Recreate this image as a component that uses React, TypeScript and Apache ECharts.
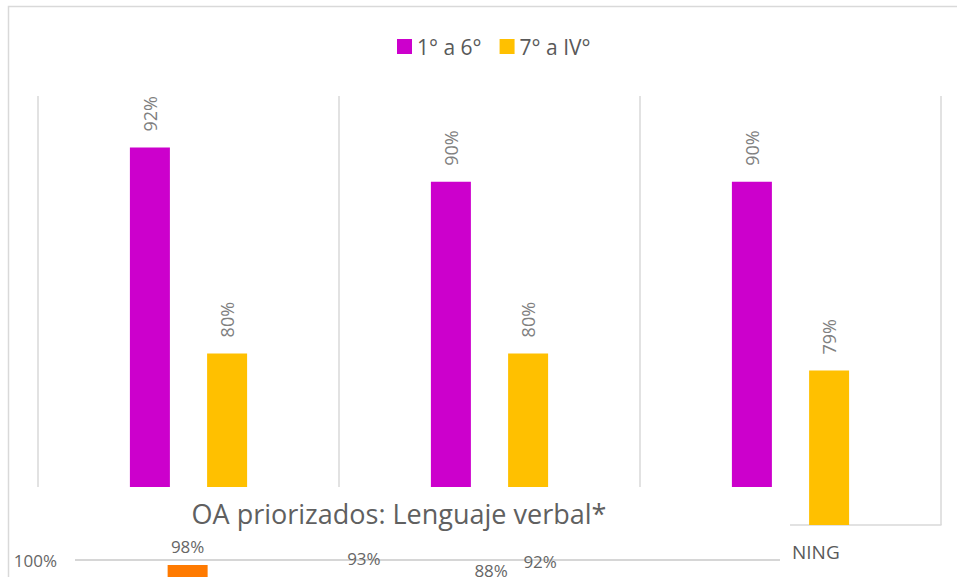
import React, { useEffect, useRef } from "react";
import * as echarts from "echarts";

// ---- Main chart data ----
const mainCategories = ["Grupo 1", "Grupo 2", "Grupo 3"];
const seriesNames = ["1° a 6°", "7° a IV°"];
const basica = [0.92, 0.9, 0.9];
const media = [0.8, 0.8, 0.79];

// ---- Partially visible overlapping chart ----
const lowerTitle = "OA priorizados: Lenguaje verbal*";
const lowerCategories = ["A", "B", "C", "D"];
const lowerSeriesNames = ["Serie 1", "Serie 2"];
const lowerLeft = [null, null, 0.88, null];
const lowerRight = [0.98, 0.93, 0.92, null];
const cutLabel = "NING";

const FONT = "Open Sans";
const pct = (v: number) => Math.round(v * 100) + "%";

export default function App() {
  const ref = useRef<HTMLDivElement>(null);
  useEffect(() => {
    if (!ref.current) return;
    const chart = echarts.init(ref.current, undefined, { renderer: "svg" });
    chart.setOption({
      animation: false,
      backgroundColor: "#ffffff",
      textStyle: { fontFamily: FONT },
      legend: {
        data: seriesNames,
        left: 397,
        top: 36,
        padding: 0,
        icon: "rect",
        itemWidth: 15,
        itemHeight: 15,
        itemGap: 18,
        textStyle: { fontSize: 21, color: "#595959", fontFamily: FONT },
      },
      grid: [
        { left: 38, right: 16, top: 96, bottom: 52, outerBoundsMode: "none" },
        { left: 75, right: 177, top: 560, height: 245, outerBoundsMode: "none" },
      ],
      xAxis: [
        {
          type: "category",
          gridIndex: 0,
          data: mainCategories,
          axisLine: { lineStyle: { color: "#d9d9d9", width: 1.5 } },
          axisTick: { show: false },
          axisLabel: { show: false },
          splitLine: { show: true, lineStyle: { color: "#d9d9d9", width: 1.5 } },
        },
        {
          type: "category",
          gridIndex: 1,
          data: lowerCategories,
          axisLine: { show: false },
          axisTick: { show: false },
          axisLabel: { show: false },
          z: 60,
        },
      ],
      yAxis: [
        { type: "value", gridIndex: 0, min: 0.7, max: 0.95, show: false },
        {
          type: "value",
          gridIndex: 1,
          min: 0,
          max: 1,
          interval: 0.2,
          z: 60,
          axisLine: { show: false },
          axisTick: { show: false },
          axisLabel: {
            formatter: (v: number) => pct(v),
            fontSize: 17,
            color: "#666666",
            margin: 18,
            fontFamily: FONT,
          },
          splitLine: { show: true, lineStyle: { color: "#d6d6d6", width: 2 } },
        },
      ],
      series: [
        {
          name: seriesNames[0],
          type: "bar",
          data: basica,
          barWidth: 40,
          barGap: "93%",
          itemStyle: { color: "#CC00CC" },
          label: {
            show: true,
            position: "top",
            rotate: 90,
            align: "left",
            verticalAlign: "middle",
            distance: 16,
            fontSize: 18,
            color: "#808080",
            formatter: (p: any) => pct(p.value),
          },
        },
        {
          name: seriesNames[1],
          type: "bar",
          data: media,
          barWidth: 40,
          barGap: "93%",
          itemStyle: { color: "#FFC000" },
          label: {
            show: true,
            position: "top",
            rotate: 90,
            align: "left",
            verticalAlign: "middle",
            distance: 16,
            fontSize: 18,
            color: "#808080",
            formatter: (p: any) => pct(p.value),
          },
        },
        {
          name: lowerSeriesNames[0],
          type: "bar",
          xAxisIndex: 1,
          yAxisIndex: 1,
          data: lowerLeft,
          barWidth: 40,
          barGap: "22.5%",
          z: 60,
          itemStyle: { color: "#A5A5A5" },
          label: {
            show: true,
            position: "top",
            distance: 10,
            fontSize: 17,
            color: "#666666",
            formatter: (p: any) => (p.value == null ? "" : pct(p.value)),
          },
        },
        {
          name: lowerSeriesNames[1],
          type: "bar",
          xAxisIndex: 1,
          yAxisIndex: 1,
          data: lowerRight,
          barWidth: 40,
          barGap: "22.5%",
          z: 60,
          itemStyle: { color: "#FF7A00" },
          label: {
            show: true,
            position: "top",
            distance: 10,
            fontSize: 17,
            color: "#666666",
            formatter: (p: any) => (p.value == null ? "" : pct(p.value)),
          },
        },
      ],
      graphic: [
        {
          type: "rect",
          silent: true,
          z: 50,
          shape: { x: 9.5, y: 487, width: 780.5, height: 100 },
          style: { fill: "#ffffff" },
        },
        {
          type: "rect",
          silent: true,
          z: 100,
          shape: { x: 8.5, y: 6.5, width: 1000, height: 1000 },
          style: { fill: "none", stroke: "#d9d9d9", lineWidth: 1.5 },
        },
        {
          type: "text",
          silent: true,
          z: 60,
          x: 399,
          y: 513,
          style: {
            text: lowerTitle,
            align: "center",
            verticalAlign: "middle",
            fontSize: 27,
            fontFamily: FONT,
            fill: "#606060",
          },
        },
        {
          type: "text",
          silent: true,
          z: 60,
          x: 792,
          y: 552,
          style: {
            text: cutLabel,
            align: "left",
            verticalAlign: "middle",
            fontSize: 19,
            fontFamily: FONT,
            fill: "#5a5a5a",
          },
        },
      ],
    });
    return () => chart.dispose();
  }, []);
  return (
    <div
      ref={ref}
      style={{ position: "absolute", left: 0, top: 0, width: 957, height: 577 }}
    />
  );
}
